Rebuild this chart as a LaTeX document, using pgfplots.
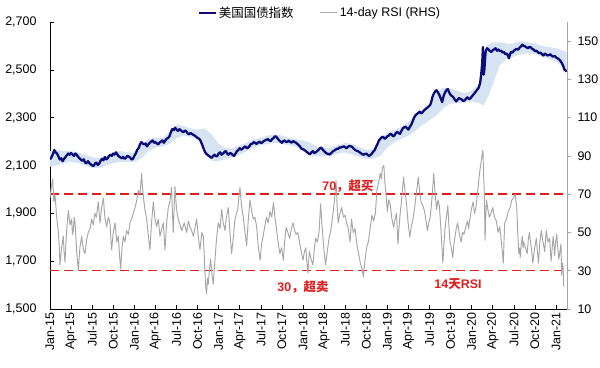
\documentclass[border=0pt]{standalone}
\usepackage{pgfplots}
\pgfplotsset{compat=1.18}
\usepgfplotslibrary{fillbetween}
\usepackage{fontspec}
\setmainfont{Liberation Sans}
\newfontfamily\cjk{Noto Sans CJK SC}
\definecolor{navyline}{RGB}{12,12,120}
\definecolor{bandblue}{RGB}{214,227,243}
\definecolor{rsigray}{RGB}{166,166,166}
\definecolor{redd}{RGB}{225,30,30}
\newcommand{\tf}{\fontsize{12.5}{14}\selectfont}
\begin{document}
\begin{tikzpicture}
\begin{axis}[
  at={(50bp,59bp)}, anchor=south west, scale only axis,
  width=517bp, height=287bp,
  xmin=0, xmax=73.56, ymin=1500, ymax=2700,
  axis x line*=bottom, axis y line*=left,
  axis line style={-, black, line width=0.8bp},
  tick align=inside, major tick length=4bp,
  tick style={black, line width=0.6bp},
  xtick={0,3,...,72},
  xticklabels={Jan-15,Apr-15,Jul-15,Oct-15,Jan-16,Apr-16,Jul-16,Oct-16,Jan-17,Apr-17,Jul-17,Oct-17,Jan-18,Apr-18,Jul-18,Oct-18,Jan-19,Apr-19,Jul-19,Oct-19,Jan-20,Apr-20,Jul-20,Oct-20,Jan-21},
  xticklabel style={rotate=90, anchor=east, font=\tf},
  ytick={1500,1700,...,2700},
  yticklabel style={font=\tf, xshift=-10bp},
  /pgf/number format/assume math mode=true,
  /pgf/number format/1000 sep={,},
  legend style={at={(rel axis cs:0.522,1)}, anchor=south, draw=none, fill=none,
    legend columns=2, font=\tf, inner sep=1bp,
    /tikz/every even column/.append style={column sep=24bp}},
]
\addplot[name path=up, draw=none, forget plot] coordinates {
(0,2160)(1,2165)(2,2160)(3,2160)(4,2155)(5,2145)(6,2135)(7,2130)(8,2140)(9,2155)(10,2160)(11,2155)(12,2155)
(13,2185)(14,2210)(15,2215)(16,2215)(17,2240)(18,2270)(19,2265)(20,2255)(21,2250)(22,2255)(23,2230)(24,2190)
(25,2172)(26,2172)(27,2185)(28,2195)(29,2210)(30,2215)(31,2225)(32,2230)(33,2225)(34,2215)(35,2210)(36,2205)
(37,2195)(38,2180)(39,2175)(40,2175)(41,2185)(42,2195)(43,2190)(44,2178)(45,2165)(46,2168)(47,2215)(48,2238)
(49,2248)(50,2262)(51,2282)(52,2312)(53,2335)(54,2355)(55,2405)(56,2425)(57,2422)(58,2412)(59,2402)(60,2412)
(61,2440)(62,2600)(63,2615)(64,2615)(65,2610)(66,2610)(67,2620)(68,2615)(69,2610)(70,2600)(71,2595)(72,2590)
(73,2580)(73.5,2575)};
\addplot[name path=lo, draw=none, forget plot] coordinates {
(0,2095)(1,2100)(2,2110)(3,2115)(4,2110)(5,2100)(6,2090)(7,2090)(8,2100)(9,2110)(10,2115)(11,2115)(12,2115)
(13,2130)(14,2160)(15,2175)(16,2180)(17,2190)(18,2215)(19,2225)(20,2220)(21,2210)(22,2175)(23,2120)(24,2118)
(25,2128)(26,2135)(27,2145)(28,2160)(29,2175)(30,2185)(31,2190)(32,2195)(33,2190)(34,2185)(35,2178)(36,2160)
(37,2140)(38,2138)(39,2138)(40,2140)(41,2150)(42,2155)(43,2145)(44,2135)(45,2128)(46,2128)(47,2140)(48,2175)
(49,2198)(50,2212)(51,2225)(52,2245)(53,2270)(54,2290)(55,2310)(56,2340)(57,2360)(58,2362)(59,2362)(60,2368)
(61,2362)(61.7,2350)(62.5,2400)(63,2440)(64,2520)(65,2545)(66,2555)(67,2565)(68,2570)(69,2565)(70,2555)
(71,2545)(72,2535)(73,2510)(73.5,2495)};
\addplot[fill=bandblue, draw=none, forget plot] fill between[of=up and lo];
\addplot[navyline, line width=2.3bp, line join=round] coordinates {
(0,2125)(0.15,2132)(0.3,2140)(0.45,2150)(0.6,2165)(0.8,2155)(1.0,2150)(1.2,2138)(1.4,2125)(1.6,2130)(1.8,2118)
(2.0,2128)(2.2,2135)(2.4,2143)(2.6,2150)(2.8,2145)(3.0,2152)(3.2,2146)(3.4,2140)(3.6,2150)(3.8,2145)(4.0,2136)
(4.2,2130)(4.4,2124)(4.6,2120)(4.8,2126)(5.0,2112)(5.2,2110)(5.4,2118)(5.6,2110)(5.8,2105)(6.0,2100)(6.2,2098)
(6.4,2108)(6.6,2112)(6.8,2102)(7.0,2108)(7.2,2120)(7.4,2128)(7.6,2122)(7.8,2135)(8.0,2126)(8.2,2130)(8.4,2140)
(8.6,2145)(8.8,2140)(9.0,2150)(9.2,2146)(9.4,2155)(9.6,2145)(9.8,2138)(10.0,2134)(10.2,2130)(10.4,2136)
(10.6,2128)(10.8,2132)(11.0,2140)(11.2,2138)(11.4,2133)(11.6,2125)(11.8,2128)(12.0,2140)(12.2,2150)(12.4,2165)
(12.6,2172)(12.8,2188)(13.0,2198)(13.2,2192)(13.4,2188)(13.6,2192)(13.8,2180)(14.0,2188)(14.2,2195)(14.4,2200)
(14.6,2205)(14.8,2195)(15.0,2198)(15.2,2192)(15.4,2188)(15.6,2196)(15.8,2200)(16.0,2205)(16.2,2195)(16.4,2204)
(16.6,2212)(16.8,2215)(17.0,2222)(17.2,2240)(17.4,2252)(17.6,2248)(17.8,2258)(18.0,2250)(18.2,2245)(18.4,2252)
(18.6,2248)(18.8,2242)(19.0,2240)(19.2,2246)(19.4,2242)(19.6,2234)(19.8,2230)(20.0,2236)(20.2,2232)(20.4,2228)
(20.6,2225)(20.8,2220)(21.0,2215)(21.2,2212)(21.4,2205)(21.6,2190)(21.8,2175)(22.0,2160)(22.2,2150)(22.4,2145)
(22.6,2140)(22.8,2136)(23.0,2132)(23.2,2140)(23.4,2145)(23.6,2138)(23.8,2140)(24.0,2150)(24.2,2155)(24.4,2145)
(24.6,2150)(24.8,2156)(25.0,2160)(25.2,2150)(25.4,2145)(25.6,2152)(25.8,2150)(26.0,2144)(26.2,2140)(26.4,2150)
(26.6,2160)(26.8,2165)(27.0,2172)(27.2,2166)(27.4,2170)(27.6,2176)(27.8,2180)(28.0,2172)(28.2,2175)(28.4,2182)
(28.6,2190)(28.8,2192)(29.0,2198)(29.2,2194)(29.4,2190)(29.6,2196)(29.8,2200)(30.0,2194)(30.2,2196)(30.4,2202)
(30.6,2205)(30.8,2208)(31.0,2210)(31.2,2205)(31.4,2202)(31.6,2210)(31.8,2215)(32.0,2222)(32.2,2220)(32.4,2212)
(32.6,2205)(32.8,2200)(33.0,2195)(33.2,2202)(33.4,2205)(33.6,2198)(33.8,2200)(34.0,2204)(34.2,2198)(34.4,2196)
(34.6,2202)(34.8,2198)(35.0,2195)(35.2,2190)(35.4,2185)(35.6,2178)(35.8,2170)(36.0,2168)(36.2,2165)(36.4,2160)
(36.6,2155)(36.8,2150)(37.0,2148)(37.2,2155)(37.4,2160)(37.6,2152)(37.8,2155)(38.0,2160)(38.2,2165)(38.4,2172)
(38.6,2175)(38.8,2166)(39.0,2160)(39.2,2154)(39.4,2150)(39.6,2148)(39.8,2146)(40.0,2152)(40.2,2158)(40.4,2162)
(40.6,2165)(40.8,2170)(41.0,2170)(41.2,2176)(41.4,2175)(41.6,2178)(41.8,2180)(42.0,2176)(42.2,2172)(42.4,2178)
(42.6,2182)(42.8,2180)(43.0,2178)(43.2,2170)(43.4,2165)(43.6,2162)(43.8,2160)(44.0,2156)(44.2,2152)(44.4,2148)
(44.6,2145)(44.8,2148)(45.0,2150)(45.2,2144)(45.4,2140)(45.6,2144)(45.8,2150)(46.0,2158)(46.2,2165)(46.4,2178)
(46.6,2190)(46.8,2205)(47.0,2212)(47.2,2218)(47.4,2220)(47.6,2212)(47.8,2215)(48.0,2222)(48.2,2225)(48.4,2232)
(48.6,2230)(48.8,2222)(49.0,2225)(49.2,2235)(49.4,2240)(49.6,2236)(49.8,2232)(50.0,2245)(50.2,2255)(50.4,2260)
(50.6,2262)(50.8,2255)(51.0,2250)(51.2,2262)(51.4,2270)(51.6,2285)(51.8,2300)(52.0,2310)(52.2,2315)(52.4,2320)
(52.6,2325)(52.8,2318)(53.0,2322)(53.2,2330)(53.4,2335)(53.6,2340)(53.8,2345)(54.0,2350)(54.2,2360)(54.4,2385)
(54.6,2400)(54.8,2410)(55.0,2415)(55.2,2405)(55.4,2395)(55.6,2380)(55.8,2365)(56.0,2390)(56.2,2405)(56.4,2415)
(56.6,2420)(56.8,2405)(57.0,2395)(57.2,2390)(57.4,2385)(57.6,2375)(57.8,2368)(58.0,2376)(58.2,2382)(58.4,2378)
(58.6,2376)(58.8,2370)(59.0,2372)(59.2,2380)(59.4,2385)(59.6,2378)(59.8,2380)(60.0,2388)(60.2,2395)(60.4,2402)
(60.6,2410)(60.8,2418)(61.0,2425)(61.2,2445)(61.35,2480)(61.5,2530)(61.6,2595)(61.7,2480)(61.8,2500)(61.9,2545)
(62.0,2580)(62.2,2590)(62.4,2585)(62.6,2578)(62.8,2575)(63.0,2582)(63.2,2586)(63.4,2590)(63.6,2580)(63.8,2585)
(64.0,2578)(64.2,2580)(64.4,2572)(64.6,2575)(64.8,2565)(65.0,2568)(65.15,2560)(65.3,2548)(65.45,2565)(65.6,2575)
(65.8,2572)(66.0,2580)(66.2,2584)(66.4,2588)(66.6,2584)(66.8,2592)(67.0,2598)(67.2,2605)(67.4,2600)(67.6,2598)
(67.8,2594)(68.0,2590)(68.2,2596)(68.4,2594)(68.6,2588)(68.8,2585)(69.0,2578)(69.2,2580)(69.4,2574)(69.6,2570)
(69.8,2572)(70.0,2565)(70.2,2560)(70.4,2568)(70.6,2564)(70.8,2560)(71.0,2562)(71.2,2565)(71.4,2558)(71.6,2555)
(71.8,2558)(72.0,2552)(72.2,2548)(72.4,2545)(72.6,2538)(72.8,2530)(73.0,2518)(73.2,2500)(73.35,2498)(73.5,2492)};
\addlegendentry{{\cjk 美国国债指数}}
\addlegendimage{rsigray, line width=1.2bp}
\addlegendentry{14-day RSI (RHS)}
\end{axis}
\begin{axis}[
  at={(50bp,59bp)}, anchor=south west, scale only axis,
  width=517bp, height=287bp,
  xmin=0, xmax=73.56, ymin=10, ymax=160,
  axis x line=none, axis y line*=right,
  axis line style={-, rsigray, line width=0.8bp},
  tick align=outside, major tick length=4bp,
  ytick style={rsigray, line width=0.6bp},
  ytick={10,30,...,150},
  yticklabel style={font=\tf, xshift=3bp},
  /pgf/number format/assume math mode=true,
]
\addplot[redd, line width=1.5bp, dash pattern=on 9bp off 5bp] coordinates {(0,70)(73.56,70)};
\addplot[redd, line width=1.5bp, dash pattern=on 9bp off 5bp] coordinates {(0,30)(73.56,30)};
\addplot[rsigray, line width=0.95bp, line join=round] coordinates {
(0,68)(0.2,74)(0.38,78)(0.55,66)(0.71,70)(0.95,58)(1.19,50)(1.3,44)(1.42,33)(1.65,42)(1.9,48)(2.0,40)
(2.13,34.5)(2.35,50)(2.6,61.5)(2.85,54)(3.08,57)(3.2,49)(3.32,51)(3.45,58)(3.56,55)(3.8,40)(4.03,30)(4.25,42)
(4.5,48)(4.75,41)(4.98,39)(5.2,46)(5.45,50)(5.7,52)(5.93,57)(6.15,54)(6.4,60)(6.6,58)(6.87,66)(7.0,60)
(7.11,55)(7.35,63)(7.59,68)(7.8,58)(8.06,53)(8.3,58)(8.53,55)(8.65,47)(8.77,41)(9.0,50)(9.25,55)(9.5,45)
(9.72,48)(9.9,38)(10.05,31)(10.25,42)(10.43,48)(10.65,45)(10.9,51)(11.15,49)(11.38,55)(11.7,58)(12.09,63)
(12.3,66)(12.56,72)(12.8,70)(13.04,81)(13.15,74)(13.28,69)(13.5,62)(13.75,57)(14.0,48)(14.22,41)(14.45,55)
(14.7,66)(14.9,58)(15.17,53)(15.4,57)(15.65,48)(15.9,52)(16.12,55)(16.36,41)(16.6,55)(16.83,63)(17.05,66)
(17.3,73.5)(17.42,60)(17.54,50)(17.65,62)(17.78,74)(18.0,62)(18.25,57)(18.5,54)(18.73,51)(19.1,55)(19.44,50)
(19.7,56)(19.91,53)(20.15,51)(20.39,48)(20.6,52)(20.86,57)(21.1,48)(21.34,41)(21.6,50)(21.81,48)(21.95,38)
(22.05,29)(22.15,22)(22.28,18)(22.4,26)(22.52,23)(22.7,31)(22.85,36)(23.05,28)(23.23,23)(23.35,30)(23.47,35.5)
(23.7,47)(23.94,55)(24.2,52)(24.42,62)(24.65,55)(24.89,51)(25.1,58)(25.37,63)(25.6,50)(25.84,39)(26.1,48)
(26.32,57)(26.7,62)(27.03,73.5)(27.25,64)(27.5,58)(27.75,50)(27.98,43)(28.2,56)(28.45,67)(28.7,61)(28.92,57)
(29.15,58)(29.4,53)(29.65,42)(29.9,35.5)(30.1,44)(30.3,47.5)(30.55,53)(30.8,58)(31.05,55)(31.3,61)(31.55,58)
(31.8,65.7)(32.0,58)(32.2,52.7)(32.45,45)(32.7,39)(32.95,42)(33.2,35.5)(33.4,46)(33.6,52.7)(33.85,50)(34.1,47)
(34.35,52)(34.6,55)(34.8,51)(35.0,49)(35.25,50)(35.5,45)(35.75,40)(36.0,35.5)(36.2,40)(36.4,42)(36.55,34)
(36.7,28.7)(36.8,35)(36.9,40)(37.15,36)(37.4,33)(37.6,41)(37.8,47)(38.05,45)(38.3,51)(38.5,65)(38.7,54)
(38.95,42)(39.2,33)(39.45,40)(39.7,47)(40.0,52)(40.3,61)(40.5,68)(40.7,77)(40.85,64)(41.0,55)(41.25,60)
(41.5,63)(41.75,58)(42.0,59)(42.2,55)(42.4,52.7)(42.55,49)(42.7,45)(42.9,57)(43.15,50)(43.4,52)(43.65,44)
(43.9,39)(44.15,34)(44.4,31)(44.6,26.7)(44.75,33)(44.9,38)(45.1,43)(45.3,45)(45.55,52)(45.8,59)(46.05,56)
(46.3,60)(46.5,72)(46.75,76)(47.0,81)(47.15,78)(47.3,84)(47.5,85)(47.65,76)(47.8,70)(48.0,61)(48.2,67)
(48.4,65)(48.65,57)(48.9,52.7)(49.1,57)(49.3,60)(49.5,44)(49.65,52)(49.8,59)(50.05,68)(50.3,79)(50.5,72)
(50.7,66)(50.95,55)(51.2,47.5)(51.4,53)(51.6,56)(51.85,62)(52.1,70)(52.25,74)(52.4,79)(52.6,71)(52.8,66)
(53.05,64)(53.3,61)(53.5,56)(53.7,51)(53.9,55)(54.1,58)(54.35,68)(54.6,81)(54.8,70)(55.0,62)(55.2,67)
(55.4,64)(55.65,50)(55.9,34)(56.05,44)(56.2,52)(56.4,58)(56.6,64)(56.75,54)(56.9,45.5)(57.1,42)(57.3,37)
(57.45,43)(57.6,47)(57.8,52)(58.0,55)(58.25,49)(58.5,45)(58.7,50)(58.9,49)(59.15,53)(59.4,56)(59.55,52)
(59.7,56)(59.95,62)(60.2,66)(60.4,60)(60.6,63)(60.8,70)(61.0,77)(61.15,82)(61.3,86)(61.45,90)(61.6,93)
(61.7,80)(61.8,70)(61.9,46)(62.0,58)(62.1,67)(62.3,62)(62.5,58)(62.75,60)(63.0,63)(63.25,58)(63.5,56)
(63.75,50)(64.0,53)(64.25,44)(64.5,34)(64.6,46)(64.7,55)(64.95,57)(65.2,61)(65.45,63)(65.7,66.8)(65.95,68)
(66.2,70)(66.3,66)(66.4,64)(66.55,50)(66.7,39)(66.8,42)(66.9,37)(67.05,44)(67.2,48)(67.3,42)(67.4,45)
(67.65,42)(67.9,39)(68.05,46)(68.2,50)(68.3,47)(68.4,44)(68.55,40)(68.7,34)(68.95,42)(69.2,47)(69.35,40)
(69.5,34)(69.7,45)(69.9,51)(70.15,45)(70.4,40)(70.5,46)(70.6,51)(70.85,45)(71.1,47)(71.2,40)(71.3,35)
(71.45,42)(71.6,48)(71.7,43)(71.8,38)(71.95,45)(72.1,49)(72.25,42)(72.4,36)(72.55,40)(72.7,44)(72.8,27.7)
(72.9,34)(73.0,32)(73.1,21.5)};
\node[text=redd, font=\fontsize{12.5}{14}\selectfont\bfseries] at (axis cs:42.4,74.3) {70{\cjk ，超买}};
\node[text=redd, font=\fontsize{12.5}{14}\selectfont\bfseries] at (axis cs:36.0,21.5) {30{\cjk ，超卖}};
\node[text=redd, font=\fontsize{12.5}{14}\selectfont\bfseries] at (axis cs:58.05,23.1) {14{\cjk 天}RSI};
\end{axis}
\pgfresetboundingbox
\path[use as bounding box] (0,0) rectangle (600bp,368bp);
\end{tikzpicture}
\end{document}
